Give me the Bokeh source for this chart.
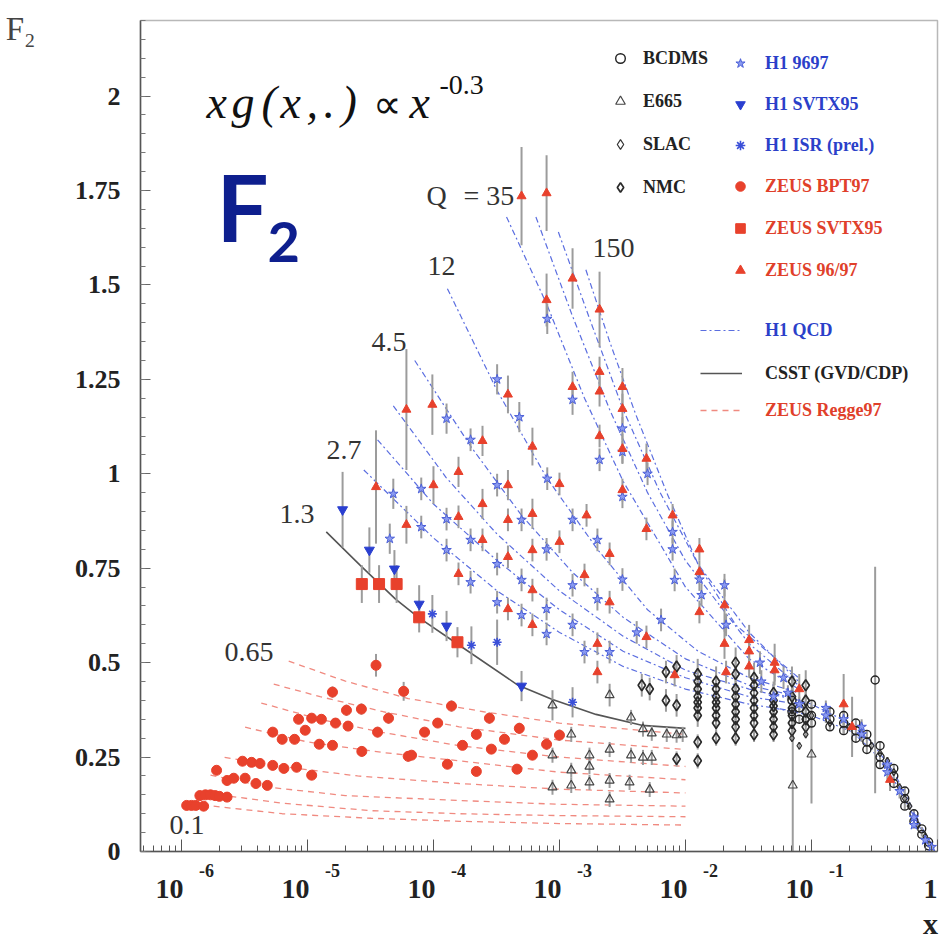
from bokeh.plotting import figure
from bokeh.models import (ColumnDataSource, Label, Legend, LegendItem, FixedTicker, Range1d,
                          LogAxis, LinearAxis)
from bokeh.embed import file_html
from bokeh.resources import INLINE

# ---------------------------------------------------------------- data
# ZEUS BPT97 (red circles)
zeus_bpt_x = [1.1e-6, 1.2e-6, 1.3e-6, 1.5e-6,
              1.4e-6, 1.55e-6, 1.7e-6, 1.85e-6, 2.0e-6, 2.3e-6,
              1.9e-6, 2.3e-6, 2.6e-6, 3.2e-6, 3.9e-6, 4.8e-6,
              3.05e-6, 3.6e-6, 4.2e-6, 5.3e-6, 6.5e-6, 8.2e-6, 1.08e-5,
              5.3e-6, 6.3e-6, 7.9e-6, 9.6e-6, 1.24e-5, 1.58e-5, 2.7e-5,
              8.5e-6, 1.08e-5, 1.29e-5, 1.67e-5, 2.1e-5, 3.6e-5, 6.3e-5,
              1.58e-5, 2.04e-5, 2.68e-5, 4.4e-5, 5.8e-5, 3.5e-5,
              1.39e-4, 2.78e-4, 1.08e-4, 8.5e-5, 2.19e-4, 4.8e-4, 3.66e-4, 1.7e-4,
              2.88e-4, 7.9e-4, 1.0e-3, 6.7e-5, 1.29e-4, 2.19e-4, 6.1e-4, 4.6e-4]
zeus_bpt_f = [0.122, 0.122, 0.122, 0.120,
              0.148, 0.150, 0.150, 0.148, 0.146, 0.144,
              0.215, 0.188, 0.194, 0.194, 0.180, 0.175,
              0.239, 0.236, 0.233, 0.228, 0.220, 0.223, 0.202,
              0.316, 0.297, 0.297, 0.321, 0.284, 0.281, 0.265,
              0.350, 0.353, 0.350, 0.340, 0.332, 0.316, 0.252,
              0.422, 0.374, 0.377, 0.353, 0.424, 0.493,
              0.385, 0.353, 0.340, 0.316, 0.310, 0.326, 0.297, 0.281,
              0.271, 0.284, 0.308, 0.255, 0.231, 0.212, 0.255, 0.218]
zeus_bpt_e = [0.008, 0.008, 0.008, 0.008,
              0.008, 0.008, 0.008, 0.008, 0.008, 0.008,
              0.010, 0.010, 0.010, 0.010, 0.010, 0.010,
              0.010, 0.010, 0.010, 0.010, 0.010, 0.010, 0.012,
              0.012, 0.012, 0.012, 0.012, 0.012, 0.012, 0.014,
              0.012, 0.012, 0.012, 0.012, 0.012, 0.014, 0.014,
              0.015, 0.015, 0.015, 0.015, 0.025, 0.030,
              0.015, 0.015, 0.012, 0.012, 0.012, 0.015, 0.012, 0.012,
              0.012, 0.015, 0.015, 0.012, 0.012, 0.012, 0.012, 0.012]

# ZEUS SVTX95 (red squares)
zeus_svtx_x = [2.7e-5, 3.7e-5, 5.1e-5, 7.7e-5, 1.55e-4]
zeus_svtx_f = [0.708, 0.708, 0.708, 0.620, 0.554]
zeus_svtx_e = [0.05, 0.05, 0.05, 0.04, 0.04]

# ZEUS 96/97 (red triangles)
zeus_9697_x = [5.0e-4, 7.9e-4, 7.9e-4, 6.1e-5, 9.8e-5, 3.9e-4, 2.45e-4, 6.1e-4, 1.58e-4, 1.0e-4,
               3.9e-4, 2.45e-4, 6.1e-4, 6.1e-5, 1.58e-4, 3.9e-4, 2.45e-4, 3.9e-4, 6.1e-4, 1.58e-4,
               3.9e-4, 6.1e-4, 3.5e-5, 6.1e-4,
               1.27e-3, 2.08e-3, 2.08e-3, 2.08e-3, 3.16e-3, 3.16e-3, 1.27e-3, 2.08e-3, 3.16e-3, 4.9e-3,
               3.16e-3, 7.9e-3, 4.9e-3, 1.29e-2, 1.29e-2, 1.29e-2, 2.04e-2, 2.04e-2, 1.0e-3, 1.64e-3,
               1.0e-3, 2.5e-3, 1.58e-3, 2.5e-3, 2.0e-3, 4.9e-3, 2.0e-3, 8.2e-3, 2.1e-2, 3.2e-2,
               3.2e-2, 3.2e-2, 5.1e-2, 5.1e-2,
               0.080, 0.18, 0.21, 0.42]
zeus_9697_f = [1.735, 1.743, 1.460, 1.170, 1.183, 1.210, 1.087, 1.072, 1.005, 0.970,
               0.970, 0.920, 0.894, 0.865, 0.886, 0.878, 0.825, 0.780, 0.798, 0.735,
               0.642, 0.692, 0.965, 0.600,
               1.517, 1.435, 1.270, 1.218, 1.230, 1.172, 1.230, 1.100, 1.066, 1.040,
               0.957, 0.890, 0.854, 0.800, 0.740, 0.634, 0.652, 0.550, 0.973, 0.890,
               0.820, 0.788, 0.732, 0.660, 0.550, 0.568, 0.475, 0.467, 0.475, 0.560,
               0.530, 0.490, 0.500, 0.480,
               0.430, 0.390, 0.330, 0.190]
zeus_9697_e = [0.13, 0.10, 0.07, 0.16, 0.08, 0.05, 0.04, 0.05, 0.04, 0.05,
               0.04, 0.04, 0.04, 0.05, 0.03, 0.03, 0.03, 0.03, 0.03, 0.03,
               0.03, 0.03, 0.15, 0.03,
               0.08, 0.10, 0.04, 0.04, 0.05, 0.04, 0.04, 0.03, 0.04, 0.04,
               0.03, 0.03, 0.03, 0.03, 0.03, 0.03, 0.07, 0.04, 0.03, 0.03,
               0.03, 0.03, 0.03, 0.03, 0.03, 0.03, 0.03, 0.03, 0.03, 0.04,
               0.03, 0.03, 0.05, 0.04,
               0.04, 0.08, 0.08, 0.03]

# H1 9697 (blue stars)
h1_9697_x = [8.0e-4, 1.27e-3, 2.08e-3, 3.16e-3, 3.16e-3, 3.16e-3, 5.0e-3, 7.9e-3, 1.29e-2, 7.9e-3,
             8.2e-3, 1.34e-2, 2.04e-2, 2.1e-2, 8.0e-4, 1.27e-3, 2.0e-3, 3.16e-3, 7.9e-4, 1.27e-3,
             2.0e-3, 6.4e-3, 7.9e-4, 1.27e-3, 7.9e-4, 1.58e-3, 2.5e-3, 4.1e-3,
             3.2e-4, 4.8e-4, 1.27e-4, 1.97e-4, 3.2e-4, 8.0e-5, 4.8e-5, 1.27e-4, 5.0e-4, 8.0e-5,
             1.97e-4, 1.27e-4, 3.2e-4, 5.0e-4, 1.97e-4, 3.2e-4, 5.0e-4, 4.5e-5,
             0.039, 0.060, 0.040, 0.050,
             0.065, 0.08, 0.13, 0.13, 0.18, 0.25, 0.25, 0.40, 0.40, 0.50, 0.65, 0.65, 0.80, 0.90]
h1_9697_f = [1.410, 1.196, 1.037, 1.120, 1.058, 0.939, 1.000, 0.846, 0.720, 0.800,
             0.719, 0.679, 0.705, 0.600, 0.987, 0.878, 0.825, 0.720, 0.800, 0.705,
             0.668, 0.613, 0.642, 0.600, 0.576, 0.528, 0.528, 0.580,
             1.250, 1.150, 1.146, 1.090, 0.970, 0.960, 0.947, 0.880, 0.878, 0.859,
             0.825, 0.798, 0.761, 0.719, 0.713, 0.660, 0.626, 0.828,
             0.500, 0.460, 0.450, 0.410,
             0.420, 0.390, 0.380, 0.360, 0.350, 0.330, 0.310, 0.230, 0.210, 0.160, 0.090, 0.070, 0.030, 0.012]
h1_9697_e = [0.04, 0.04, 0.03, 0.03, 0.03, 0.03, 0.03, 0.03, 0.03, 0.03,
             0.03, 0.03, 0.03, 0.03, 0.03, 0.03, 0.03, 0.03, 0.03, 0.03,
             0.03, 0.03, 0.03, 0.03, 0.03, 0.03, 0.03, 0.03,
             0.04, 0.04, 0.04, 0.03, 0.03, 0.03, 0.04, 0.03, 0.03, 0.03,
             0.03, 0.03, 0.03, 0.03, 0.03, 0.03, 0.03, 0.04,
             0.03, 0.03, 0.03, 0.03,
             0.02, 0.02, 0.02, 0.02, 0.02, 0.02, 0.02, 0.02, 0.02, 0.02, 0.01, 0.01, 0.01, 0.01]

# H1 SVTX95 (blue down triangles)
h1_svtx_x = [1.9e-5, 3.1e-5, 4.9e-5, 7.7e-5, 1.27e-4, 5.0e-4]
h1_svtx_f = [0.905, 0.798, 0.748, 0.655, 0.597, 0.438]
h1_svtx_e = [0.10, 0.06, 0.05, 0.05, 0.04, 0.04]

# H1 ISR (prel.) (blue asterisks)
h1_isr_x = [9.8e-5, 2.0e-4, 3.2e-4, 1.27e-3]
h1_isr_f = [0.629, 0.546, 0.554, 0.395]
h1_isr_e = [0.05, 0.05, 0.06, 0.04]

# E665 (open triangles)
e665_x = [8.8e-4, 1.24e-3, 8.8e-4, 1.73e-3, 2.5e-3, 1.24e-3, 1.73e-3, 8.8e-4, 1.24e-3, 1.73e-3,
          2.5e-3, 3.6e-3, 5.2e-3, 2.5e-3, 3.7e-3, 4.6e-3, 5.4e-3, 3.7e-3, 2.5e-3, 4.6e-3,
          5.4e-3, 7.1e-3, 8.5e-3, 9.5e-3, 0.071, 0.10]
e665_f = [0.387, 0.310, 0.255, 0.255, 0.270, 0.215, 0.225, 0.170, 0.175, 0.183,
          0.188, 0.183, 0.164, 0.138, 0.255, 0.249, 0.249, 0.355, 0.414, 0.324,
          0.313, 0.310, 0.308, 0.310, 0.175, 0.257]
e665_e = [0.04, 0.02, 0.02, 0.02, 0.02, 0.02, 0.02, 0.02, 0.02, 0.02,
          0.02, 0.02, 0.02, 0.02, 0.02, 0.02, 0.02, 0.02, 0.03, 0.02,
          0.02, 0.02, 0.02, 0.02, 0.28, 0.13]

# NMC (open diamonds)
nmc_x = [0.0045, 0.0052, 0.007, 0.007, 0.0085, 0.0085, 0.0085,
         0.0125, 0.0125, 0.0125, 0.0125, 0.0125, 0.0125, 0.0125, 0.0125, 0.0125,
         0.0175, 0.0175, 0.0175, 0.0175, 0.0175, 0.0175, 0.0175, 0.0175,
         0.025, 0.025, 0.025, 0.025, 0.025, 0.025, 0.025, 0.025, 0.025,
         0.035, 0.035, 0.035, 0.035, 0.035, 0.035, 0.035, 0.035,
         0.05, 0.05, 0.05, 0.05, 0.05, 0.05, 0.05,
         0.07, 0.07, 0.07, 0.07, 0.07, 0.07,
         0.09, 0.09, 0.09, 0.09, 0.09]
nmc_f = [0.44, 0.43, 0.475, 0.40, 0.49, 0.387, 0.245,
         0.47, 0.45, 0.43, 0.41, 0.395, 0.38, 0.36, 0.29, 0.24,
         0.45, 0.43, 0.41, 0.395, 0.38, 0.36, 0.34, 0.30,
         0.50, 0.47, 0.43, 0.41, 0.39, 0.37, 0.35, 0.33, 0.30,
         0.46, 0.44, 0.42, 0.40, 0.38, 0.36, 0.34, 0.31,
         0.42, 0.40, 0.385, 0.37, 0.35, 0.33, 0.31,
         0.45, 0.41, 0.38, 0.36, 0.34, 0.32,
         0.44, 0.40, 0.37, 0.35, 0.33]
nmc_e = [0.03, 0.03, 0.03, 0.03, 0.03, 0.03, 0.02,
         0.04, 0.03, 0.03, 0.03, 0.03, 0.03, 0.03, 0.02, 0.02,
         0.04, 0.03, 0.03, 0.03, 0.03, 0.03, 0.03, 0.02,
         0.04, 0.04, 0.03, 0.03, 0.03, 0.03, 0.03, 0.02, 0.02,
         0.04, 0.03, 0.03, 0.03, 0.03, 0.03, 0.02, 0.02,
         0.03, 0.03, 0.03, 0.03, 0.02, 0.02, 0.02,
         0.04, 0.03, 0.03, 0.02, 0.02, 0.02,
         0.04, 0.03, 0.02, 0.02, 0.02]

# BCDMS (open circles)
bcdms_x = [0.07, 0.07, 0.08, 0.08, 0.10, 0.10, 0.10, 0.14, 0.14, 0.14, 0.18, 0.18, 0.18,
           0.225, 0.225, 0.225, 0.275, 0.275, 0.275, 0.35, 0.35, 0.35, 0.45, 0.45, 0.45,
           0.55, 0.55, 0.55, 0.65, 0.65, 0.75, 0.75, 0.85, 0.85, 0.32]
bcdms_f = [0.40, 0.37, 0.38, 0.35, 0.39, 0.36, 0.34, 0.37, 0.35, 0.33, 0.36, 0.34, 0.32,
           0.34, 0.32, 0.30, 0.31, 0.29, 0.27, 0.28, 0.25, 0.23, 0.22, 0.20, 0.18,
           0.16, 0.14, 0.12, 0.10, 0.08, 0.06, 0.045, 0.025, 0.015, 0.454]
bcdms_e = [0.01, 0.01, 0.01, 0.01, 0.01, 0.01, 0.01, 0.01, 0.01, 0.01, 0.01, 0.01, 0.01,
           0.01, 0.01, 0.01, 0.01, 0.01, 0.01, 0.01, 0.01, 0.01, 0.01, 0.01, 0.01,
           0.01, 0.01, 0.01, 0.01, 0.01, 0.005, 0.005, 0.005, 0.005, 0.30]

# SLAC (small open diamonds)
slac_x = [0.07, 0.08, 0.09, 0.10, 0.14, 0.20, 0.25, 0.30, 0.35, 0.40, 0.45, 0.50, 0.55, 0.60, 0.70, 0.80, 0.90]
slac_f = [0.30, 0.28, 0.31, 0.36, 0.34, 0.33, 0.31, 0.28, 0.26, 0.24, 0.21, 0.17, 0.14, 0.12, 0.07, 0.04, 0.012]
slac_e = [0.01, 0.01, 0.01, 0.01, 0.01, 0.01, 0.01, 0.01, 0.01, 0.01, 0.01, 0.01, 0.01, 0.01, 0.005, 0.005, 0.005]

# CSST (GVD/CDP), Q^2 = 1.3
csst_x = [1.41e-5, 2.6e-5, 5.0e-5, 7.6e-5, 1.48e-4, 4.7e-4, 8.7e-4, 1.95e-3, 4.5e-3, 1.0e-2]
csst_f = [0.846, 0.759, 0.668, 0.620, 0.554, 0.440, 0.403, 0.363, 0.334, 0.326]

# H1 QCD curves (one list per Q^2 value)
qcd_x = [
    [2.8e-5, 1.0e-4, 3.2e-4, 1.0e-3, 3.2e-3, 1.0e-2, 3.2e-2, 7.9e-2],
    [3.6e-5, 1.0e-4, 3.2e-4, 1.0e-3, 3.2e-3, 1.0e-2, 3.2e-2, 7.9e-2],
    [4.8e-5, 1.26e-4, 3.2e-4, 1.0e-3, 3.2e-3, 1.0e-2, 3.2e-2, 7.9e-2],
    [7.1e-5, 2.0e-4, 5.0e-4, 1.26e-3, 3.2e-3, 1.0e-2, 3.2e-2, 7.9e-2],
    [1.29e-4, 3.2e-4, 7.9e-4, 2.0e-3, 5.0e-3, 1.26e-2, 3.2e-2, 7.9e-2],
    [3.8e-4, 7.9e-4, 1.58e-3, 3.2e-3, 1.0e-2, 3.2e-2, 7.9e-2],
    [6.5e-4, 1.26e-3, 2.5e-3, 5.0e-3, 1.0e-2, 3.2e-2, 7.9e-2],
    [9.8e-4, 1.78e-3, 3.2e-3, 6.3e-3, 1.26e-2, 3.2e-2, 7.9e-2],
    [1.62e-3, 2.5e-3, 4.0e-3, 7.1e-3, 1.26e-2, 2.5e-2, 7.9e-2],
    [0.05, 0.10, 0.20, 0.30, 0.45, 0.60, 0.75, 0.90],
    [0.05, 0.10, 0.20, 0.30, 0.45, 0.60, 0.75, 0.90],
]
qcd_f = [
    [1.01, 0.83, 0.69, 0.58, 0.49, 0.43, 0.39, 0.37],
    [1.09, 0.92, 0.77, 0.64, 0.53, 0.46, 0.41, 0.39],
    [1.18, 0.99, 0.84, 0.69, 0.57, 0.48, 0.43, 0.40],
    [1.30, 1.07, 0.89, 0.74, 0.62, 0.51, 0.44, 0.41],
    [1.49, 1.22, 0.99, 0.80, 0.64, 0.53, 0.46, 0.42],
    [1.68, 1.45, 1.20, 0.98, 0.70, 0.51, 0.43],
    [1.68, 1.42, 1.17, 0.95, 0.77, 0.55, 0.44],
    [1.64, 1.40, 1.17, 0.95, 0.76, 0.58, 0.45],
    [1.54, 1.35, 1.16, 0.95, 0.76, 0.60, 0.46],
    [0.42, 0.39, 0.34, 0.29, 0.21, 0.13, 0.065, 0.018],
    [0.38, 0.36, 0.32, 0.27, 0.19, 0.115, 0.055, 0.012],
]

# ZEUS Regge97 curves, Q^2 = 0.65 ... 0.1
regge_x = [
    [7.1e-6, 2.0e-5, 6.3e-5, 2.5e-4, 1.0e-3, 1.0e-2],
    [5.4e-6, 1.26e-5, 4.0e-5, 1.6e-4, 1.0e-3, 1.0e-2],
    [4.3e-6, 1.26e-5, 4.0e-5, 1.6e-4, 1.0e-3, 1.0e-2],
    [3.2e-6, 1.0e-5, 4.0e-5, 1.6e-4, 1.0e-3, 1.0e-2],
    [2.2e-6, 6.3e-6, 2.5e-5, 1.6e-4, 1.0e-3, 1.0e-2],
    [1.7e-6, 5.0e-6, 2.0e-5, 1.6e-4, 1.0e-3, 1.0e-2],
    [2.0e-6, 6.3e-6, 3.2e-5, 1.6e-4, 1.0e-3, 1.0e-2],
    [1.8e-6, 6.3e-6, 3.2e-5, 1.6e-4, 1.0e-3, 1.0e-2],
]
regge_f = [
    [0.504, 0.451, 0.405, 0.370, 0.340, 0.310],
    [0.443, 0.410, 0.370, 0.330, 0.295, 0.270],
    [0.393, 0.350, 0.315, 0.280, 0.250, 0.225],
    [0.329, 0.290, 0.262, 0.240, 0.210, 0.190],
    [0.249, 0.225, 0.200, 0.180, 0.165, 0.155],
    [0.202, 0.170, 0.148, 0.135, 0.125, 0.120],
    [0.150, 0.128, 0.108, 0.100, 0.095, 0.092],
    [0.120, 0.100, 0.088, 0.080, 0.074, 0.070],
]

# axis ticks / labels
x_tick_exps = [-6, -5, -4, -3, -2, -1]
y_ticks = [0.0, 0.25, 0.5, 0.75, 1.0, 1.25, 1.5, 1.75, 2.0]
y_tick_labels = ["0", "0.25", "0.5", "0.75", "1", "1.25", "1.5", "1.75", "2"]

# ---------------------------------------------------------------- layout
W, H = 940, 942
FR_L, FR_R, FR_T, FR_B = 140, 937, 20, 851     # frame edges in page pixels
LX_MIN = -6.325
Y_MAX = 2.2
DEC = (FR_R - FR_L) / (0 - LX_MIN)              # pixels per decade


def dx(px):
    return 10 ** (LX_MIN + (px - FR_L) / DEC)


def dy(py):
    return (FR_B - py) / (FR_B - FR_T) * Y_MAX


p = figure(width=W, height=H, x_axis_type="log",
           x_range=Range1d(10 ** LX_MIN, 1.0), y_range=Range1d(0, Y_MAX),
           output_backend="svg", toolbar_location=None,
           min_border_left=FR_L, min_border_right=W - FR_R,
           min_border_top=FR_T, min_border_bottom=H - FR_B)
p.xgrid.visible = False
p.ygrid.visible = False
p.background_fill_color = "white"
p.border_fill_color = "white"
p.outline_line_color = "#b8b8b8"
p.outline_line_width = 1.5

SERIF = "Liberation Serif"
INK = "#222222"

# main x axis: ticks only
ax = p.xaxis[0]
ax.ticker = FixedTicker(ticks=[10.0 ** e for e in x_tick_exps] + [1.0],
                        minor_ticks=[m * 10.0 ** e for e in range(-7, 0) for m in range(2, 10)])
ax.major_label_overrides = {10.0 ** e: "" for e in x_tick_exps + [0]}
ax.major_label_text_font_size = "1px"
ax.major_label_standoff = 0
ax.axis_line_color = "#555555"
ax.axis_line_width = 1.5
ax.major_tick_line_color = "#555555"
ax.minor_tick_line_color = "#555555"
ax.major_tick_in = 12
ax.major_tick_out = 0
ax.minor_tick_in = 6
ax.minor_tick_out = 0


def label_axis(cls, ticks, texts, size, standoff, side, style="bold", color=INK):
    a = cls(ticker=FixedTicker(ticks=ticks),
            major_label_overrides={t: s for t, s in zip(ticks, texts)})
    a.axis_line_color = None
    a.major_tick_line_color = None
    a.minor_tick_line_color = None
    a.major_label_standoff = standoff
    a.major_label_text_font = SERIF
    a.major_label_text_font_style = style
    a.major_label_text_font_size = f"{size}px"
    a.major_label_text_color = color
    p.add_layout(a, side)
    return a


# exponent row, then "10" row, then the axis name "x"
label_axis(LogAxis, [10.0 ** (e + 25 / DEC) for e in x_tick_exps], [str(e) for e in x_tick_exps],
           18, 6, "below")
label_axis(LogAxis, [10.0 ** (e - 12 / DEC) for e in x_tick_exps] + [10.0 ** (-7 / DEC)],
           ["10"] * len(x_tick_exps) + ["1"], 28, -6, "below")
label_axis(LogAxis, [dx(930)], ["x"], 30, 0, "below")

# y axis
ay = p.yaxis[0]
ay.ticker = FixedTicker(ticks=y_ticks, minor_ticks=[round(0.05 * i, 2) for i in range(45)])
ay.major_label_overrides = {t: s for t, s in zip(y_ticks, y_tick_labels)}
ay.axis_line_color = "#555555"
ay.axis_line_width = 1.5
ay.major_tick_line_color = "#666666"
ay.minor_tick_line_color = "#777777"
ay.major_tick_in = 10
ay.major_tick_out = 0
ay.minor_tick_in = 5
ay.minor_tick_out = 0
ay.major_label_standoff = 20
ay.major_label_text_font = SERIF
ay.major_label_text_font_style = "bold"
ay.major_label_text_font_size = "26px"
ay.major_label_text_color = INK

# axis name "F2" at the top left
label_axis(LinearAxis, [dy(28)], ["F\u2082"], 33, 30, "left", style="normal", color="#444444")

RED = "#e8412c"
BLUE = "#2a3fd0"

# curves
r_regge = p.multi_line(xs=regge_x, ys=regge_f, line_color="#f08a80", line_width=1.3, line_dash="6 5")
r_csst = p.line(csst_x, csst_f, line_color="#555555", line_width=1.6)
r_qcd = p.multi_line(xs=qcd_x, ys=qcd_f, line_color="#5b6ee0", line_width=1.2, line_dash="6 3 2 3")

# error bars
sets = [(zeus_bpt_x, zeus_bpt_f, zeus_bpt_e), (zeus_svtx_x, zeus_svtx_f, zeus_svtx_e),
        (zeus_9697_x, zeus_9697_f, zeus_9697_e), (h1_9697_x, h1_9697_f, h1_9697_e),
        (h1_svtx_x, h1_svtx_f, h1_svtx_e), (h1_isr_x, h1_isr_f, h1_isr_e),
        (e665_x, e665_f, e665_e), (nmc_x, nmc_f, nmc_e), (bcdms_x, bcdms_f, bcdms_e),
        (slac_x, slac_f, slac_e)]
ex, elo, ehi = [], [], []
for xs, fs, es in sets:
    ex += list(xs)
    elo += [f - e for f, e in zip(fs, es)]
    ehi += [f + e for f, e in zip(fs, es)]
p.segment(x0="x", y0="lo", x1="x", y1="hi",
          source=ColumnDataSource(dict(x=ex, lo=elo, hi=ehi)),
          line_color="#9c9c9c", line_width=2)

# markers
r_nmc = p.scatter(nmc_x, nmc_f, marker="diamond", size=11, fill_color=None, line_color="#2a2a2a", line_width=1.7)
r_e665 = p.scatter(e665_x, e665_f, marker="triangle", size=9, fill_color=None, line_color="#444444", line_width=1.2)
r_slac = p.scatter(slac_x, slac_f, marker="diamond", size=7, fill_color=None, line_color="#333333", line_width=1.2)
r_bcdms = p.scatter(bcdms_x, bcdms_f, marker="circle", size=8, fill_color=None, line_color="#222222", line_width=1.4)
r_h1 = p.scatter(h1_9697_x, h1_9697_f, marker="star", size=10, fill_color="#8a9af0", line_color="#4b5fd8", line_width=1)
r_h1s = p.scatter(h1_svtx_x, h1_svtx_f, marker="inverted_triangle", size=10, fill_color=BLUE, line_color=BLUE)
r_h1i = p.scatter(h1_isr_x, h1_isr_f, marker="asterisk", size=9, line_color="#3a4fd8", line_width=1.6)
r_zb = p.scatter(zeus_bpt_x, zeus_bpt_f, marker="circle", size=10, fill_color=RED, line_color=RED)
r_zs = p.scatter(zeus_svtx_x, zeus_svtx_f, marker="square", size=11, fill_color=RED, line_color=RED)
r_zt = p.scatter(zeus_9697_x, zeus_9697_f, marker="triangle", size=9, fill_color=RED, line_color=RED)


# legends
def add_legend(entries, box_left, first_row, color, pitch, gw=24, standoff=11):
    gh = 24
    n = len(entries)
    bottom = first_row - gh / 2 + n * gh + (n - 1) * (pitch - gh)
    lg = Legend(items=[LegendItem(label=t, renderers=[r]) for t, r in entries],
                location=(box_left - FR_L, FR_B - bottom), orientation="vertical",
                glyph_width=gw, glyph_height=gh, label_height=gh, spacing=pitch - gh,
                padding=0, margin=0, label_standoff=standoff,
                border_line_color=None, background_fill_alpha=0,
                label_text_font=SERIF, label_text_font_style="bold",
                label_text_font_size="18px", label_text_color=color)
    p.add_layout(lg)


add_legend([("BCDMS", r_bcdms), ("E665", r_e665), ("SLAC", r_slac), ("NMC", r_nmc)], 608, 58, INK, 43)
add_legend([("H1 9697", r_h1), ("H1 SVTX95", r_h1s), ("H1 ISR (prel.)", r_h1i)], 728, 63, "#2b3fc9", 41, standoff=13)
add_legend([("ZEUS BPT97", r_zb), ("ZEUS SVTX95", r_zs), ("ZEUS 96/97", r_zt)], 728, 186, "#e0402a", 42, standoff=13)
add_legend([("H1 QCD", r_qcd)], 700, 330, "#2b3fc9", 43, gw=42, standoff=23)
add_legend([("CSST (GVD/CDP)", r_csst)], 700, 373, INK, 43, gw=42, standoff=23)
add_legend([("ZEUS Regge97", r_regge)], 700, 410, "#e0402a", 43, gw=42, standoff=23)


# text annotations inside the frame (py = vertical centre of the text box)
def lab(text, px, py, size, style="normal", color="#333333", font=SERIF):
    p.add_layout(Label(x=dx(px), y=dy(py), text=text, text_font=font,
                       text_font_size=f"{size}px", text_font_style=style,
                       text_color=color, text_align="left", text_baseline="middle"))


# formula  xg(x,.) ∝ x^-0.3
formula_tokens = ["x", "g", "(", "x", ",", ".", ")"]
formula_px = [206, 231, 261, 280, 306, 323, 341]
for t, px in zip(formula_tokens, formula_px):
    lab(t, px, 102, 46, style="italic", color="#111111")
lab("\u221d", 372, 104, 40, color="#111111")
lab("x", 409, 102, 46, style="italic", color="#111111")
lab("-0.3", 439, 84, 28, color="#111111")

# big F2
lab("F", 216, 206, 92, style="bold", color="#0e1f8e", font="Lato")
lab("2", 267, 241, 56, style="bold", color="#0e1f8e", font="Lato")

# Q^2 labels
lab("Q", 426, 195, 28)
lab("= 35", 463, 195, 28)
lab("12", 427, 265, 28)
lab("4.5", 371, 341, 28)
lab("2.7", 326, 449, 28)
lab("1.3", 279, 513, 28)
lab("0.65", 224, 651, 28)
lab("0.1", 169, 824, 28)
lab("150", 592, 247, 28)

open("out.html", "w").write(file_html(p, INLINE))
